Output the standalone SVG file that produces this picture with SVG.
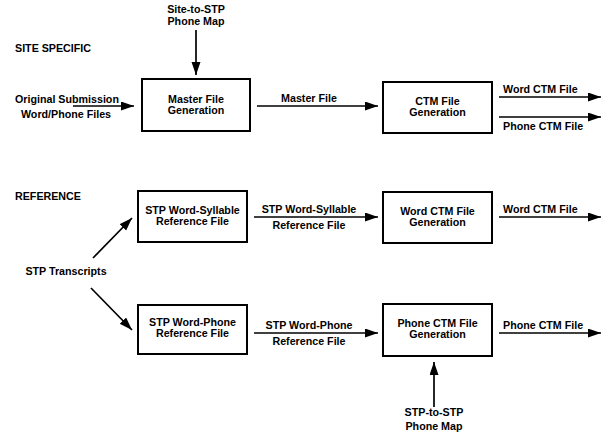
<svg xmlns="http://www.w3.org/2000/svg" width="605" height="434" viewBox="0 0 605 434">
<style>
text{font-family:"Liberation Sans",Arial,sans-serif;font-weight:bold;font-size:10.7px;fill:#000}
.c{text-anchor:middle}
.box{fill:#fff;stroke:#000;stroke-width:2}
.ln{stroke:#000;stroke-width:1.7;fill:none;marker-end:url(#ah)}
</style>
<defs>
<marker id="ah" markerUnits="userSpaceOnUse" markerWidth="14" markerHeight="10" refX="13" refY="4.5" orient="auto">
<path d="M0,0 L13,4.5 L0,9 z" fill="#000"/>
</marker>
</defs>
<rect width="605" height="434" fill="#fff"/>
<text x="15" y="52">SITE SPECIFIC</text>
<text x="15" y="200">REFERENCE</text>
<g id="connectors">
<line class="ln" x1="73" y1="106" x2="134" y2="106"/>
<line class="ln" x1="196" y1="30" x2="196" y2="75"/>
<line class="ln" x1="257" y1="106" x2="378" y2="106"/>
<line class="ln" x1="499" y1="97" x2="601" y2="97"/>
<line class="ln" x1="499" y1="117" x2="601" y2="117"/>
<line class="ln" x1="93" y1="258" x2="132" y2="218"/>
<line class="ln" x1="91" y1="288" x2="132" y2="330"/>
<line class="ln" x1="254" y1="217" x2="378" y2="217"/>
<line class="ln" x1="499" y1="217" x2="601" y2="217"/>
<line class="ln" x1="254" y1="333" x2="378" y2="333"/>
<line class="ln" x1="499" y1="333" x2="601" y2="333"/>
<line class="ln" x1="434" y1="407" x2="434" y2="362"/>
</g>
<g id="labels">
<text x="15" y="103">Original Submission</text>
<text class="c" x="66" y="118">Word/Phone Files</text>
<text class="c" x="196" y="13">Site-to-STP</text>
<text class="c" x="196" y="25">Phone Map</text>
<text class="c" x="309" y="102">Master File</text>
<text x="503" y="93">Word CTM File</text>
<text x="503" y="130">Phone CTM File</text>
<text class="c" x="66" y="275">STP Transcripts</text>
<text class="c" x="309" y="213">STP Word-Syllable</text>
<text class="c" x="309" y="229">Reference File</text>
<text x="503" y="213">Word CTM File</text>
<text class="c" x="309" y="329">STP Word-Phone</text>
<text class="c" x="309" y="345">Reference File</text>
<text x="503" y="329">Phone CTM File</text>
<text class="c" x="434" y="416">STP-to-STP</text>
<text class="c" x="434" y="430">Phone Map</text>
</g>
<g id="master">
<rect class="box" x="142" y="79" width="108" height="52"/>
<text class="c" x="196" y="103">Master File</text>
<text class="c" x="196" y="114">Generation</text>
</g>
<g id="ctm">
<rect class="box" x="383" y="82" width="109" height="51"/>
<text class="c" x="437.5" y="105">CTM File</text>
<text class="c" x="437.5" y="116">Generation</text>
</g>
<g id="syll">
<rect class="box" x="138" y="191" width="109" height="51"/>
<text class="c" x="192.5" y="214">STP Word-Syllable</text>
<text class="c" x="192.5" y="225">Reference File</text>
</g>
<g id="wctm">
<rect class="box" x="383" y="192" width="109" height="51"/>
<text class="c" x="437.5" y="215">Word CTM File</text>
<text class="c" x="437.5" y="226">Generation</text>
</g>
<g id="phone">
<rect class="box" x="138" y="305" width="109" height="49"/>
<text class="c" x="192.5" y="326">STP Word-Phone</text>
<text class="c" x="192.5" y="337">Reference File</text>
</g>
<g id="pctm">
<rect class="box" x="383" y="304" width="109" height="52"/>
<text class="c" x="437.5" y="327">Phone CTM File</text>
<text class="c" x="437.5" y="338">Generation</text>
</g>
</svg>
